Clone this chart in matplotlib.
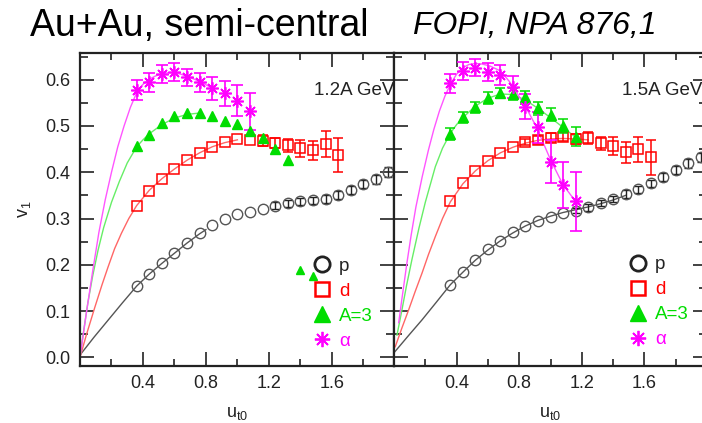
import matplotlib
matplotlib.use('Agg')
import numpy as np
import matplotlib.pyplot as plt
from matplotlib.ticker import FixedLocator, MultipleLocator, FormatStrFormatter
from matplotlib.lines import Line2D

plt.rcParams['font.family'] = ['Liberation Sans', 'DejaVu Sans']
plt.rcParams['mathtext.fontset'] = 'custom'
plt.rcParams['mathtext.rm'] = 'Liberation Sans'
plt.rcParams['mathtext.it'] = 'Liberation Sans'

# u_t0 bins (same for all species)
ut0 = [0.36, 0.44, 0.52, 0.60, 0.68, 0.76, 0.84, 0.92, 1.00, 1.08, 1.16, 1.24,
       1.32, 1.40, 1.48, 1.56, 1.64, 1.72, 1.80, 1.88, 1.96]

# ---- 1.2A GeV ----
p12 = [0.154, 0.180, 0.203, 0.226, 0.247, 0.268, 0.286, 0.299, 0.310, 0.315, 0.321,
       0.328, 0.333, 0.337, 0.339, 0.342, 0.351, 0.362, 0.375, 0.385, 0.401]
p12_err = [0, 0, 0, 0, 0, 0, 0, 0, 0, 0, 0,
           0.008, 0.008, 0.008, 0.008, 0.008, 0.008, 0.009, 0.009, 0.010, 0.011]
d12 = [0.326, 0.360, 0.385, 0.406, 0.427, 0.441, 0.455, 0.466, 0.471, 0.470, 0.468,
       0.463, 0.458, 0.452, 0.447, 0.461, 0.437]
d12_err = [0, 0, 0, 0, 0, 0, 0, 0, 0, 0, 0.012,
           0.010, 0.014, 0.018, 0.020, 0.028, 0.036]
a3_12 = [0.457, 0.481, 0.506, 0.522, 0.527, 0.527, 0.522, 0.511, 0.504, 0.490, 0.475,
         0.450, 0.427]
a3_12_extra_x = [1.40, 1.48]
a3_12_extra = [0.189, 0.175]
al12 = [0.578, 0.594, 0.612, 0.617, 0.605, 0.594, 0.581, 0.571, 0.555, 0.532]
al12_err = [0.021, 0.020, 0.020, 0.020, 0.019, 0.020, 0.024, 0.027, 0.033, 0.040]

# fit curves
p12_fx = [0.0, 0.09, 0.18, 0.27, 0.36, 0.44, 0.52, 0.60, 0.68, 0.76, 0.80]
p12_fy = [0.005, 0.044, 0.081, 0.118, 0.154, 0.180, 0.203, 0.225, 0.247, 0.267, 0.276]
d12_fx = [0.0, 0.04, 0.094, 0.14, 0.178, 0.22, 0.263, 0.31, 0.36, 0.44, 0.52, 0.60, 0.68,
          0.76, 0.84, 0.92, 1.0]
d12_fy = [0.0, 0.048, 0.108, 0.157, 0.195, 0.235, 0.268, 0.300, 0.328, 0.361, 0.386,
          0.407, 0.426, 0.442, 0.455, 0.464, 0.470]
a3_12_fx = [0.0, 0.02, 0.05, 0.08, 0.115, 0.15, 0.20, 0.25, 0.30, 0.36, 0.40, 0.44, 0.52,
            0.60, 0.68, 0.76]
a3_12_fy = [0.0, 0.05, 0.118, 0.175, 0.232, 0.28, 0.335, 0.38, 0.42, 0.455, 0.47, 0.483,
            0.503, 0.517, 0.525, 0.528]
al12_fx = [0.0, 0.04, 0.08, 0.12, 0.16, 0.20, 0.24, 0.28, 0.32, 0.36, 0.40, 0.44, 0.48,
           0.52, 0.56, 0.60, 0.64, 0.68, 0.72, 0.76, 0.80, 0.84]
al12_fy = [0.0, 0.095, 0.185, 0.27, 0.34, 0.40, 0.455, 0.50, 0.54, 0.572, 0.590, 0.601,
           0.608, 0.613, 0.615, 0.615, 0.612, 0.607, 0.602, 0.596, 0.589, 0.582]

# ---- 1.5A GeV ----
p15 = [0.157, 0.184, 0.211, 0.234, 0.252, 0.270, 0.284, 0.295, 0.303, 0.311, 0.317,
       0.324, 0.333, 0.342, 0.353, 0.363, 0.376, 0.390, 0.405, 0.419, 0.432]
p15_err = [0, 0, 0, 0, 0, 0, 0, 0, 0, 0, 0.006,
           0.007, 0.007, 0.007, 0.008, 0.008, 0.008, 0.008, 0.008, 0.009, 0.010]
d15 = [0.338, 0.376, 0.403, 0.425, 0.441, 0.454, 0.465, 0.470, 0.475, 0.477, 0.472,
       0.475, 0.463, 0.457, 0.443, 0.450, 0.432]
d15_err = [0, 0, 0, 0, 0, 0, 0.006, 0.008, 0.010, 0.010, 0.010,
           0.013, 0.014, 0.019, 0.023, 0.027, 0.037]
a3_15 = [0.482, 0.519, 0.540, 0.560, 0.571, 0.569, 0.562, 0.538, 0.524, 0.500, 0.477]
a3_15_err = [0.013, 0.012, 0.012, 0.013, 0.011, 0.012, 0.014, 0.014, 0.014, 0.016, 0.020]
al15 = [0.592, 0.619, 0.626, 0.617, 0.610, 0.585, 0.542, 0.497, 0.423, 0.373, 0.337]
al15_err = [0.020, 0.020, 0.019, 0.019, 0.021, 0.024, 0.028, 0.034, 0.047, 0.050, 0.063]

p15_fx = [0.0, 0.09, 0.179, 0.27, 0.36, 0.44, 0.52, 0.60, 0.68, 0.76, 0.84, 0.92, 1.0,
          1.08, 1.16, 1.24, 1.32, 1.40, 1.48]
p15_fy = [0.01, 0.046, 0.081, 0.119, 0.157, 0.184, 0.210, 0.232, 0.252, 0.269, 0.284,
          0.296, 0.305, 0.313, 0.319, 0.325, 0.332, 0.340, 0.350]
d15_fx = [0.008, 0.05, 0.094, 0.135, 0.179, 0.22, 0.264, 0.31, 0.36, 0.44, 0.52, 0.60,
          0.68, 0.76, 0.84, 0.92, 1.0, 1.08, 1.16, 1.24]
d15_fy = [0.023, 0.063, 0.103, 0.142, 0.182, 0.222, 0.261, 0.300, 0.336, 0.375, 0.403,
          0.425, 0.442, 0.454, 0.463, 0.469, 0.472, 0.473, 0.472, 0.470]
a3_15_fx = [0.019, 0.051, 0.08, 0.115, 0.16, 0.20, 0.264, 0.31, 0.36, 0.40, 0.44, 0.52,
            0.60, 0.68, 0.76, 0.84, 0.92, 1.0, 1.08, 1.17]
a3_15_fy = [0.048, 0.103, 0.155, 0.212, 0.28, 0.335, 0.412, 0.452, 0.484, 0.503, 0.518,
            0.543, 0.560, 0.569, 0.568, 0.556, 0.538, 0.518, 0.497, 0.473]
al15_fx = [0.03, 0.05, 0.083, 0.11, 0.14, 0.18, 0.22, 0.255, 0.29, 0.325, 0.36, 0.40, 0.44,
           0.48, 0.52, 0.56, 0.61, 0.68, 0.74, 0.84, 0.91, 1.0, 1.08, 1.16]
al15_fy = [0.075, 0.125, 0.205, 0.265, 0.325, 0.39, 0.448, 0.493, 0.532, 0.564, 0.590,
           0.612, 0.626, 0.633, 0.635, 0.634, 0.630, 0.619, 0.595, 0.542, 0.498, 0.427,
           0.373, 0.337]

species_labels = ['p', 'd', 'A=3', r'$\alpha$']
energy_labels = ['1.2A GeV', '1.5A GeV']

C_TXT = '#222222'
C_P = '#555555'
C_D = '#ff0000'
C_A3 = '#00dd00'
C_AL = '#ff00ff'
ASTER = (8, 2, 0)


def style_axes(ax, show_ylabels, xmax):
    ax.set_xlim(0, xmax)
    ax.set_ylim(-0.018, 0.657)
    ax.xaxis.set_major_locator(FixedLocator([0.4, 0.8, 1.2, 1.6]))
    ax.xaxis.set_minor_locator(MultipleLocator(0.2))
    ax.yaxis.set_major_locator(MultipleLocator(0.1))
    ax.yaxis.set_minor_locator(MultipleLocator(0.05))
    ax.yaxis.set_major_formatter(FormatStrFormatter('%.1f'))
    ax.tick_params(which='both', direction='in', top=True, right=True,
                   width=1.2, color=C_TXT, labelsize=13, labelcolor=C_TXT)
    ax.tick_params(which='major', length=10, pad=7)
    ax.tick_params(axis='x', which='minor', length=5)
    ax.tick_params(axis='y', which='minor', length=6)
    if not show_ylabels:
        ax.tick_params(labelleft=False)
    for s in ax.spines.values():
        s.set_linewidth(1.6)
        s.set_color(C_TXT)
    ax.set_xlabel(r'u$_{\mathregular{t0}}$', fontsize=13, color=C_TXT)
    ax.xaxis.set_label_coords(0.5, -0.125)


def errbars(ax, x, y, err, color, cap, lw):
    # only the points whose error bar is visible in the picture
    x = np.asarray(x[:len(y)])
    y = np.asarray(y)
    err = np.asarray(err)
    m = err > 0
    ax.errorbar(x[m], y[m], yerr=err[m], fmt='none', ecolor=color, elinewidth=lw,
                capsize=cap, capthick=lw, zorder=3)


def draw_panel(ax, p, p_err, pf, d, d_err, df, a3, a3_err, a3f, al, al_err, alf):
    ax.plot(pf[0], pf[1], color='#555555', lw=1.0, zorder=2)
    ax.plot(df[0], df[1], color='#ff6666', lw=1.0, zorder=2)
    ax.plot(a3f[0], a3f[1], color='#66ee66', lw=1.0, zorder=2)
    ax.plot(alf[0], alf[1], color='#ff55ff', lw=1.0, zorder=2)

    errbars(ax, ut0, p, p_err, C_TXT, 3, 1.0)
    ax.plot(ut0[:len(p)], p, 'o', ms=7.5, mfc='none', mec=C_P, mew=1.0, zorder=3)
    errbars(ax, ut0, d, d_err, C_D, 3.5, 1.1)
    ax.plot(ut0[:len(d)], d, 's', ms=7.5, mfc='none', mec=C_D, mew=1.1, zorder=3)
    if a3_err is not None:
        errbars(ax, ut0, a3, a3_err, C_A3, 3.5, 1.1)
    ax.plot(ut0[:len(a3)], a3, '^', ms=7.5, color=C_A3, zorder=4)
    errbars(ax, ut0, al, al_err, C_AL, 4, 1.2)
    ax.plot(ut0[:len(al)], al, ls='none', marker=ASTER, ms=9, mec=C_AL, mew=1.2, zorder=5)


def add_legend(ax, x0, y0):
    handles = [
        Line2D([], [], ls='none', marker='o', ms=11, mfc='none', mec=C_TXT, mew=2.0),
        Line2D([], [], ls='none', marker='s', ms=10, mfc='none', mec=C_D, mew=1.8),
        Line2D([], [], ls='none', marker='^', ms=12, color=C_A3),
        Line2D([], [], ls='none', marker=ASTER, ms=11, mec=C_AL, mew=1.3),
    ]
    ax.legend(handles, species_labels, loc='upper left', bbox_to_anchor=(x0, y0),
              frameon=False, fontsize=13.5, handlelength=1.0, handletextpad=0.4,
              labelspacing=0.42, borderpad=0, borderaxespad=0,
              labelcolor=[C_TXT, C_D, C_A3, C_AL])


fig = plt.figure(figsize=(7.02, 4.23), dpi=100)
ax1 = fig.add_axes([80 / 702, 57.3 / 423, 314 / 702, 312.4 / 423])
ax2 = fig.add_axes([394 / 702, 57.3 / 423, 313 / 702, 312.4 / 423])

draw_panel(ax1, p12, p12_err, (p12_fx, p12_fy), d12, d12_err, (d12_fx, d12_fy),
           a3_12, None, (a3_12_fx, a3_12_fy), al12, al12_err, (al12_fx, al12_fy))
ax1.plot(a3_12_extra_x, a3_12_extra, '^', ms=5.5, color=C_A3, zorder=4)
draw_panel(ax2, p15, p15_err, (p15_fx, p15_fy), d15, d15_err, (d15_fx, d15_fy),
           a3_15, a3_15_err, (a3_15_fx, a3_15_fy), al15, al15_err, (al15_fx, al15_fy))

style_axes(ax1, True, 1.995)
style_axes(ax2, False, 2.0)
ax1.set_ylabel(r'v$_{\mathregular{1}}$', fontsize=13, color=C_TXT)
ax1.yaxis.set_label_coords(-0.15, 0.5)

ax1.text(1.0, 0.88, energy_labels[0], transform=ax1.transAxes, ha='right', va='center',
         fontsize=13.5, color=C_TXT)
ax2.text(0.985, 0.88, energy_labels[1], transform=ax2.transAxes, ha='right', va='center',
         fontsize=13.5, color=C_TXT)

add_legend(ax1, 0.741, 0.346)
add_legend(ax2, 0.75, 0.35)

fig.text(30 / 702, 1 - 26 / 423, 'Au+Au, semi-central', fontsize=27, ha='left', va='center',
         color='black')
fig.text(413 / 702, 1 - 26 / 423, 'FOPI, NPA 876,1', fontsize=23, style='italic',
         ha='left', va='center', color='black')

fig.savefig('out.png', dpi=100)
